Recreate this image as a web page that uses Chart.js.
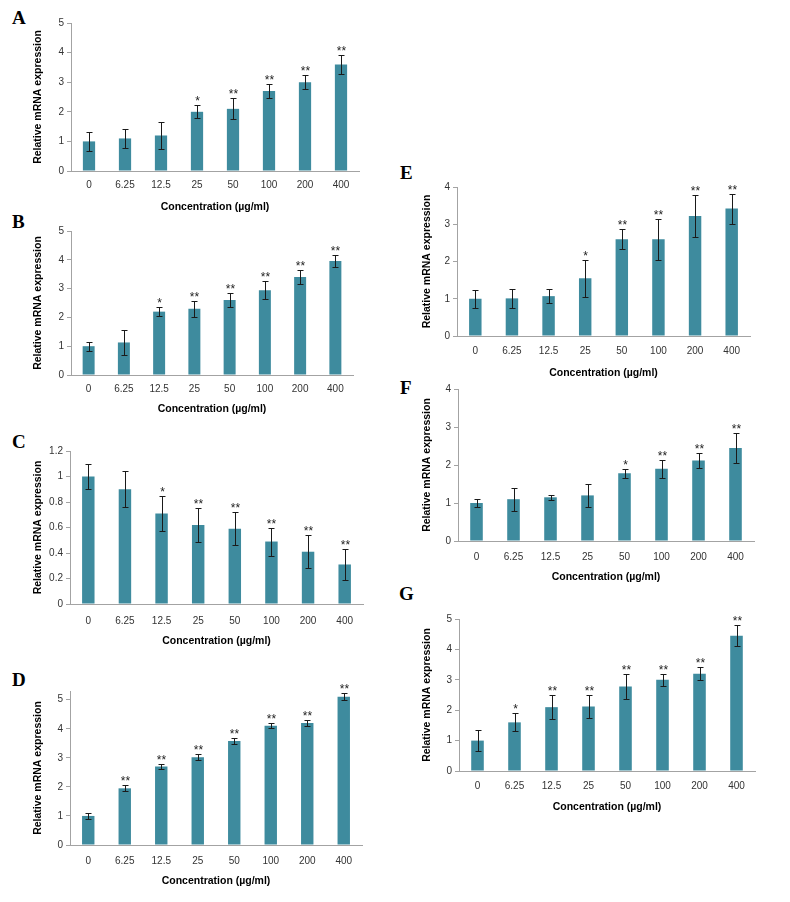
<!DOCTYPE html>
<html>
<head>
<meta charset="utf-8">
<script src="https://cdn.jsdelivr.net/npm/chart.js@4.4.1/dist/chart.umd.min.js"></script>
<style>
  body { margin: 0; background: #fff; }
  #page { position: relative; width: 790px; height: 902px; overflow: hidden; background: #fff; }
  #page canvas { position: absolute; }
  .tag { position: absolute; font: bold 19px "Liberation Serif", "Times New Roman", serif; line-height: 19px; color: #000; }
</style>
</head>
<body>
<div id="page">
  <div class="tag" style="left:12px;top:8px">A</div>
  <div class="tag" style="left:12px;top:212px">B</div>
  <div class="tag" style="left:12px;top:432px">C</div>
  <div class="tag" style="left:12px;top:670px">D</div>
  <div class="tag" style="left:400px;top:163px">E</div>
  <div class="tag" style="left:400px;top:378px">F</div>
  <div class="tag" style="left:399px;top:584px">G</div>
</div>
<script>
// concentrations (µg/ml) on every x axis
const concentrations = ["0", "6.25", "12.5", "25", "50", "100", "200", "400"];

// relative mRNA expression, mean and error per panel
const valuesA = [1.0, 1.1, 1.2, 2.0, 2.1, 2.7, 3.0, 3.6];
const errorsA = [0.32, 0.32, 0.45, 0.22, 0.35, 0.23, 0.23, 0.32];
const starsA  = ["", "", "", "*", "**", "**", "**", "**"];

const valuesB = [1.0, 1.13, 2.2, 2.3, 2.6, 2.94, 3.4, 3.96];
const errorsB = [0.15, 0.42, 0.16, 0.27, 0.25, 0.31, 0.23, 0.21];
const starsB  = ["", "", "*", "**", "**", "**", "**", "**"];

const valuesC = [1.0, 0.9, 0.71, 0.62, 0.59, 0.49, 0.41, 0.31];
const errorsC = [0.10, 0.14, 0.14, 0.13, 0.13, 0.11, 0.13, 0.12];
const starsC  = ["", "", "*", "**", "**", "**", "**", "**"];

const valuesD = [1.0, 1.95, 2.7, 3.02, 3.58, 4.1, 4.2, 5.1];
const errorsD = [0.1, 0.1, 0.1, 0.11, 0.1, 0.09, 0.1, 0.12];
const starsD  = ["", "**", "**", "**", "**", "**", "**", "**"];

const valuesE = [1.0, 1.01, 1.07, 1.55, 2.6, 2.6, 3.22, 3.42];
const errorsE = [0.24, 0.25, 0.19, 0.5, 0.26, 0.55, 0.56, 0.4];
const starsE  = ["", "", "", "*", "**", "**", "**", "**"];

const valuesF = [1.0, 1.1, 1.15, 1.2, 1.78, 1.9, 2.12, 2.45];
const errorsF = [0.1, 0.3, 0.06, 0.3, 0.12, 0.23, 0.2, 0.4];
const starsF  = ["", "", "", "", "*", "**", "**", "**"];

const valuesG = [1.0, 1.6, 2.1, 2.12, 2.78, 3.0, 3.2, 4.45];
const errorsG = [0.35, 0.3, 0.4, 0.37, 0.4, 0.2, 0.22, 0.35];
const starsG  = ["", "*", "**", "**", "**", "**", "**", "**"];

const barColor = "#3e8b9e";
const axisColor = "#a3a3a3";
const tickColor = "#333333";
const sans = '"Liberation Sans", Arial, sans-serif';

const panels = [
    { values: valuesA, errors: errorsA, stars: starsA, max: 5, step: 1, l: 71, r: 359, t: 22, b: 171, tickY: 185, titleY: 207, titleX: 38 },
    { values: valuesB, errors: errorsB, stars: starsB, max: 5, step: 1, l: 71, r: 353, t: 230, b: 375, tickY: 389, titleY: 409, titleX: 38 },
    { values: valuesC, errors: errorsC, stars: starsC, max: 1.2, step: 0.2, l: 70, r: 363, t: 450, b: 604, tickY: 621, titleY: 641, titleX: 38 },
    { values: valuesD, errors: errorsD, stars: starsD, max: 5.3, step: 1, l: 70, r: 362, t: 690, b: 845, tickY: 861, titleY: 881, titleX: 38 },
    { values: valuesE, errors: errorsE, stars: starsE, max: 4, step: 1, l: 457, r: 750, t: 186, b: 336, tickY: 351, titleY: 373, titleX: 427 },
    { values: valuesF, errors: errorsF, stars: starsF, max: 4, step: 1, l: 458, r: 754, t: 388, b: 541, tickY: 557, titleY: 577, titleX: 427 },
    { values: valuesG, errors: errorsG, stars: starsG, max: 5, step: 1, l: 459, r: 755, t: 618, b: 771, tickY: 786, titleY: 807, titleX: 427 },
];

// error bars + significance stars, drawn from the y scale
function makeErrorBars(p) {
    return {
        id: "errorBars",
        afterDatasetsDraw(chart) {
            const ctx = chart.ctx;
            const y = chart.scales.y;
            const meta = chart.getDatasetMeta(0);
            ctx.save();
            ctx.strokeStyle = "#1a1a1a";
            ctx.fillStyle = "#222";
            ctx.lineWidth = 1;
            ctx.font = "12px " + sans;
            ctx.textAlign = "center";
            ctx.textBaseline = "alphabetic";
            p.values.forEach((v, i) => {
                const x = Math.round(meta.data[i].x) + 0.5;
                const yt = Math.round(y.getPixelForValue(v + p.errors[i])) + 0.5;
                const yb = Math.round(y.getPixelForValue(v - p.errors[i])) + 0.5;
                ctx.beginPath();
                ctx.moveTo(x, yt); ctx.lineTo(x, yb);
                ctx.moveTo(x - 3, yt); ctx.lineTo(x + 3, yt);
                ctx.moveTo(x - 3, yb); ctx.lineTo(x + 3, yb);
                ctx.stroke();
                if (p.stars[i]) ctx.fillText(p.stars[i], x, yt - 1);
            });
            ctx.restore();
        },
    };
}

function createPanel(p) {
    const page = document.getElementById("page");
    const half = 6.3; // half line height of the axis titles
    const left = Math.round(p.titleX - half);
    const top = p.t - 8;
    const bottom = Math.round(p.titleY + half);
    const right = p.r + 10;
    const canvas = document.createElement("canvas");
    canvas.width = right - left;
    canvas.height = bottom - top;
    canvas.style.left = left + "px";
    canvas.style.top = top + "px";
    page.appendChild(canvas);

    const yWidth = p.l - left;
    const xHeight = bottom - p.b;

    new Chart(canvas.getContext("2d"), {
        type: "bar",
        data: {
            labels: concentrations,
            datasets: [
                {
                    data: p.values,
                    backgroundColor: barColor,
                    borderWidth: 0,
                    barPercentage: 0.34,
                    categoryPercentage: 1,
                },
            ],
        },
        options: {
            responsive: false,
            animation: false,
            layout: { padding: { top: 8, right: 10, left: 0, bottom: 0 } },
            plugins: {
                legend: { display: false },
                tooltip: { enabled: false },
            },
            scales: {
                x: {
                    grid: { display: false, drawTicks: false },
                    border: { display: true, color: axisColor, width: 1 },
                    ticks: {
                        padding: p.tickY - p.b - 6,
                        color: tickColor,
                        font: { family: sans, size: 10 },
                        maxRotation: 0,
                        autoSkip: false,
                    },
                    title: {
                        display: true,
                        text: "Concentration (µg/ml)",
                        color: "#000",
                        font: { family: sans, size: 10.5, weight: "bold" },
                        padding: 0,
                    },
                    afterFit: (s) => { s.height = xHeight; },
                },
                y: {
                    min: 0,
                    max: p.max,
                    bounds: "data",
                    grid: { drawOnChartArea: false, drawTicks: true, tickLength: 4, color: axisColor },
                    border: { display: true, color: axisColor, width: 1 },
                    ticks: {
                        stepSize: p.step,
                        includeBounds: false,
                        padding: 3,
                        color: tickColor,
                        font: { family: sans, size: 10 },
                        callback: (v) => String(Math.round(v * 10) / 10),
                    },
                    title: {
                        display: true,
                        text: "Relative mRNA expression",
                        color: "#000",
                        font: { family: sans, size: 10.5, weight: "bold" },
                        padding: 0,
                    },
                    afterFit: (s) => { s.width = yWidth; },
                },
            },
        },
        plugins: [makeErrorBars(p)],
    });
}

panels.forEach(createPanel);
</script>
</body>
</html>
